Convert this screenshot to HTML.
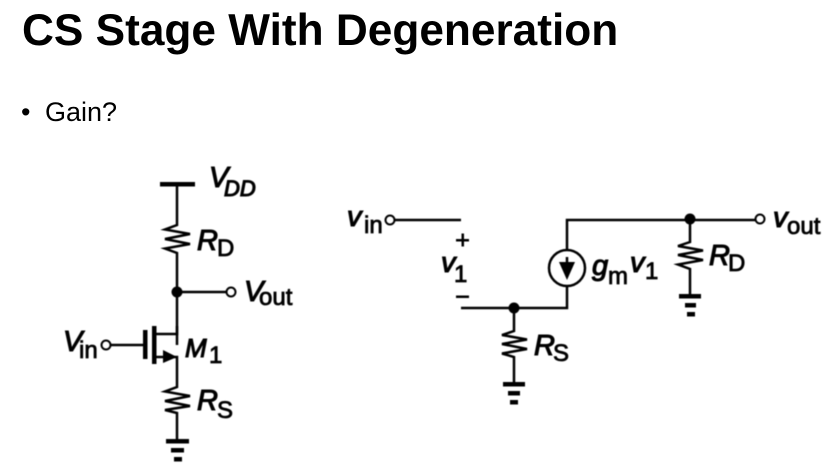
<!DOCTYPE html>
<html>
<head>
<meta charset="utf-8">
<style>
html,body{margin:0;padding:0;background:#fff}
svg{display:block}
.d{filter:blur(.4px)}
text{font-family:"Liberation Sans",sans-serif;fill:#000}
.i{font-style:italic;font-size:29px;stroke:#000;stroke-width:1.100px}
.s{font-size:24px;stroke:#000;stroke-width:.8px}
</style>
</head>
<body>
<svg width="833" height="476" viewBox="0 0 833 476" xmlns="http://www.w3.org/2000/svg">
<text x="22" y="45" font-size="44.2" font-weight="bold">CS Stage With Degeneration</text>
<text x="21" y="121" font-size="27" fill="#222">•</text>
<text x="45" y="121" font-size="27" fill="#333">Gain?</text>

<g class="d">
<g fill="none" stroke="#000" stroke-width="2.500">
<!-- left -->
<path d="M177 184V225L165 229.500L190 234L165 239L190 244L165 248.500L177 253V345"/>
<path d="M177 292H226"/>
<circle cx="231" cy="292" r="4.500" fill="#fff" stroke-width="2"/>
<circle cx="106" cy="345" r="4.500" fill="#fff" stroke-width="2"/>
<path d="M111 345H144"/>
<path d="M155 334H177V326"/>
<path d="M155 357H177V387L165 391.500L190 396L165 401L190 406L165 410L177 413V441"/>
<!-- right -->
<circle cx="390" cy="220" r="4.500" fill="#fff" stroke-width="2"/>
<path d="M395 220H461"/>
<path d="M461 308H567V286M567 250V220H755"/>
<circle cx="567" cy="268" r="18" stroke-width="2.500"/>
<path d="M567 257V262"/>
<path d="M514 308V331L502 335L527 339.500L502 344L527 349L502 353.500L514 357V384"/>
<path d="M690 219V242L678 246L703 250.500L678 255L703 260L678 264.500L690 269V296"/>
<circle cx="760" cy="219" r="4.500" fill="#fff" stroke-width="2"/>
</g>

<g fill="#000" stroke="none">
<rect x="160" y="182" width="35" height="4.500"/>
<circle cx="177" cy="292" r="5.500"/>
<rect x="143" y="330" width="4.500" height="29"/>
<rect x="152" y="326" width="4.500" height="38"/>
<path d="M163 350L177 357L163 363Z"/>
<rect x="166" y="439" width="23" height="4.500"/>
<rect x="171" y="448" width="13" height="4.500"/>
<rect x="174" y="457" width="8" height="4.500"/>

<circle cx="514" cy="308" r="5.500"/>
<circle cx="690" cy="219" r="5.500"/>
<path d="M559 262H575L567 280Z"/>
<rect x="503" y="382" width="22" height="4.500"/>
<rect x="508" y="391" width="12" height="4.500"/>
<rect x="510" y="400" width="8" height="4.500"/>
<rect x="679" y="294" width="22" height="4.500"/>
<rect x="685" y="303" width="11" height="4.500"/>
<rect x="687" y="312" width="8" height="4.500"/>
<rect x="456" y="239" width="13" height="2.500"/>
<rect x="461.500" y="233.500" width="2.500" height="13"/>
<rect x="456" y="295.500" width="13" height="2.500"/>
</g>

<text class="i" x="209" y="187">V</text>
<text class="i" x="224" y="196" style="font-size:22px">DD</text>
<text class="i" x="197" y="250">R</text>
<text class="s" x="217" y="256">D</text>
<text class="i" x="244" y="301">V</text>
<text class="s" x="259" y="305">out</text>
<text class="i" x="63" y="351">V</text>
<text class="s" x="79" y="358">in</text>
<text class="i" x="185" y="357" style="font-size:26px">M</text>
<text class="s" x="209" y="363">1</text>
<text class="i" x="197" y="410">R</text>
<text class="s" x="217" y="418">S</text>

<text class="i" x="347" y="226">v</text>
<text class="s" x="364" y="233">in</text>
<text class="i" x="441" y="272">v</text>
<text class="s" x="454" y="282">1</text>
<text class="i" x="534" y="355">R</text>
<text class="s" x="553" y="361">S</text>
<text class="i" x="592" y="275">g</text>
<text class="s" x="608" y="284">m</text>
<text class="i" x="630" y="272">v</text>
<text class="s" x="645" y="279">1</text>
<text class="i" x="709" y="265">R</text>
<text class="s" x="728" y="271">D</text>
<text class="i" x="773" y="227">v</text>
<text class="s" x="787" y="234">out</text>
</g>
</svg>
</body>
</html>
